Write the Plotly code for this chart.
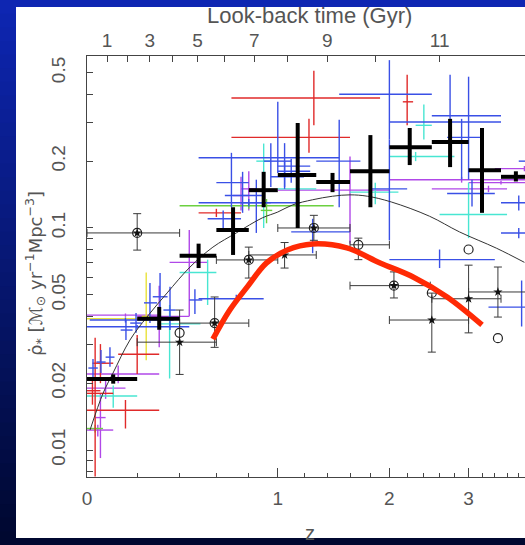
import numpy as np
import plotly.graph_objects as go

# ---------------- data ----------------
# thick black binned crosses: z, sfr, z_lo, z_hi, sfr_lo, sfr_hi
BIN = [
    (0.10, 0.0209, 0.0, 0.2, 0.0199, 0.0219),
    (0.30, 0.039, 0.2, 0.4, 0.0348, 0.0441),
    (0.50, 0.075, 0.4, 0.6, 0.066, 0.085),
    (0.70, 0.098, 0.6, 0.8, 0.0756, 0.124),
    (0.90, 0.148, 0.8, 1.0, 0.124, 0.179),
    (1.15, 0.173, 1.0, 1.3, 0.100, 0.297),
    (1.44, 0.161, 1.3, 1.6, 0.145, 0.177),
    (1.80, 0.180, 1.6, 2.0, 0.124, 0.262),
    (2.23, 0.231, 2.0, 2.5, 0.192, 0.282),
    (2.74, 0.244, 2.5, 3.0, 0.188, 0.310),
    (3.20, 0.182, 3.0, 3.5, 0.117, 0.282),
    (3.75, 0.170, 3.5, 4.0, 0.162, 0.180),
]

# thin black points with capped error bars: kind, z, sfr, z_lo, z_hi, sfr_lo, sfr_hi
PTS = [
    ("cstar", 0.20, 0.095, 0.0, 0.4, 0.0795, 0.116),
    ("circle", 0.40, 0.0337, None, None, None, None),
    ("star", 0.40, 0.0306, 0.2, 0.6, 0.0219, 0.0427),
    ("cstar", 0.59, 0.0373, 0.4, 0.8, 0.029, 0.0489),
    ("cstar", 0.80, 0.0718, 0.6, 1.0, 0.0595, 0.082),
    ("star", 1.05, 0.0756, 0.8, 1.3, 0.066, 0.086),
    ("cstar", 1.28, 0.100, 1.0, 1.6, 0.088, 0.114),
    ("circle", 1.68, 0.084, 1.6, 2.0, 0.072, 0.090),
    ("cstar", 2.05, 0.055, 1.6, 2.48, 0.0484, 0.0634),
    ("circle", 2.50, 0.051, None, None, None, None),
    ("star", 2.50, 0.0385, 2.0, 3.0, 0.0276, 0.0509),
    ("star", 3.00, 0.048, 2.5, 3.5, 0.0337, 0.068),
    ("circle", 3.00, 0.080, None, None, None, None),
    ("star", 3.45, 0.0515, 3.0, 4.0, 0.0397, 0.0667),
    ("circle", 3.45, 0.0319, None, None, None, None),
]

BLUE = [
    (0.022, 0.0234, 0.005, 0.04, 0.0213, 0.0257),
    (0.052, 0.0249, 0.035, 0.07, 0.0222, 0.0282),
    (0.087, 0.0262, 0.07, 0.105, 0.0237, 0.029),
    (0.152, 0.0347, 0.13, 0.18, 0.0313, 0.0385),
    (0.195, 0.0373, 0.17, 0.22, 0.0337, 0.0414),
    (0.257, 0.046, 0.23, 0.29, 0.0373, 0.0565),
    (0.304, 0.049, 0.27, 0.34, 0.0385, 0.0627),
    (0.352, 0.0427, 0.32, 0.38, 0.0347, 0.0543),
    (0.15, 0.0385, 0.01, 0.37, 0.0375, 0.0395),
    (0.20, 0.0359, 0.0, 0.45, 0.0352, 0.0366),
    (0.48, 0.0474, 0.45, 0.52, 0.041, 0.053),
    (0.72, 0.048, 0.5, 0.9, 0.046, 0.050),
    (0.95, 0.207, 0.5, 1.5, 0.153, 0.241),
    (1.00, 0.20, 0.9, 1.1, 0.177, 0.37),
    (0.69, 0.16, 0.6, 0.8, 0.124, 0.218),
    (0.80, 0.13, 0.5, 1.17, 0.125, 0.135),
    (0.76, 0.14, 0.65, 0.9, 0.117, 0.179),
    (0.85, 0.13, 0.75, 0.95, 0.095, 0.165),
    (0.64, 0.11, 0.55, 0.75, 0.10, 0.12),
    (1.05, 0.17, 0.95, 1.2, 0.15, 0.20),
    (1.05, 0.19, 1.0, 1.25, 0.153, 0.241),
    (1.50, 0.20, 1.3, 1.7, 0.124, 0.307),
    (2.00, 0.40, 1.5, 2.5, 0.25, 0.57),
    (2.74, 0.30, 2.0, 3.5, 0.188, 0.49),
    (3.00, 0.32, 2.5, 3.5, 0.165, 0.48),
    (2.90, 0.256, 2.7, 3.2, 0.165, 0.31),
    (2.00, 0.15, 1.8, 2.2, 0.088, 0.25),
    (3.05, 0.143, 2.7, 3.4, 0.125, 0.165),
    (3.80, 0.13, 3.5, 4.2, 0.12, 0.14),
    (3.80, 0.095, 3.5, 4.2, 0.09, 0.10),
    (2.60, 0.072, 2.0, 3.4, 0.066, 0.080),
    (3.85, 0.044, 3.3, 4.2, 0.036, 0.058),
    (1.27, 0.096, 1.1, 1.6, 0.077, 0.11),
    (4.00, 0.20, 3.8, 4.3, 0.19, 0.21),
    (1.10, 0.18, 1.0, 1.25, 0.16, 0.205),
]
RED = [
    (0.03, 0.018, 0.0, 0.1, 0.0076, 0.032),
    (0.20, 0.027, 0.12, 0.3, 0.022, 0.033),
    (0.15, 0.0151, 0.0, 0.3, 0.0125, 0.0168),
    (0.05, 0.0246, 0.02, 0.1, 0.020, 0.030),
    (0.02, 0.0185, 0.0, 0.05, 0.016, 0.021),
    (1.28, 0.385, 0.69, 1.9, 0.29, 0.51),
    (1.24, 0.256, 0.69, 1.6, 0.218, 0.31),
    (2.20, 0.37, 2.15, 2.27, 0.29, 0.49),
    (0.60, 0.117, 0.5, 0.75, 0.112, 0.122),
]
CYAN = [
    (0.10, 0.0175, 0.0, 0.2, 0.0155, 0.0195),
    (0.35, 0.037, 0.29, 0.51, 0.021, 0.045),
    (0.55, 0.063, 0.4, 0.6, 0.045, 0.072),
    (0.90, 0.20, 0.85, 0.95, 0.10, 0.24),
    (1.15, 0.15, 1.0, 1.3, 0.13, 0.25),
    (2.40, 0.29, 2.3, 2.5, 0.25, 0.36),
    (3.00, 0.115, 2.6, 3.6, 0.09, 0.16),
    (1.85, 0.145, 1.6, 2.1, 0.128, 0.16),
    (2.30, 0.21, 2.0, 2.8, 0.20, 0.22),
]
VIOLET = [
    (0.15, 0.0405, 0.0, 0.3, 0.0398, 0.0412),
    (0.12, 0.022, 0.0, 0.3, 0.020, 0.024),
    (0.07, 0.019, 0.0, 0.15, 0.017, 0.021),
    (0.04, 0.0123, 0.0, 0.1, 0.0115, 0.013),
    (0.05, 0.014, 0.03, 0.07, 0.0092, 0.018),
    (0.30, 0.040, 0.2, 0.45, 0.029, 0.055),
    (0.45, 0.070, 0.35, 0.55, 0.040, 0.098),
    (0.80, 0.15, 0.75, 0.85, 0.12, 0.18),
    (0.75, 0.14, 0.7, 0.8, 0.12, 0.17),
    (1.60, 0.148, 1.0, 2.0, 0.085, 0.21),
    (2.90, 0.165, 2.0, 4.3, 0.16, 0.17),
    (3.90, 0.185, 3.4, 4.3, 0.18, 0.19),
    (3.30, 0.15, 2.5, 3.6, 0.145, 0.155),
    (3.50, 0.16, 3.0, 4.3, 0.157, 0.163),
]
YELLOW = [
    (0.24, 0.040, 0.22, 0.26, 0.0254, 0.063),
    (0.15, 0.039, 0.0, 0.3, 0.0385, 0.0395),
]
GREEN = [
    (0.80, 0.126, 0.4, 1.45, 0.122, 0.130),
    (0.92, 0.120, 0.88, 0.96, 0.105, 0.135),
    (0.03, 0.0125, 0.0, 0.06, 0.012, 0.013),
]

FIT_Z = [0.011, 0.06, 0.099, 0.169, 0.243, 0.338, 0.454, 0.58, 0.72, 0.89, 1.0,
         1.11, 1.27, 1.44, 1.6, 1.77, 2.02, 2.47, 2.87, 3.43, 3.9]
FIT_SFR = [0.0123, 0.018, 0.0222, 0.0313, 0.0397, 0.051, 0.0667, 0.082, 0.095, 0.111, 0.118,
           0.127, 0.134, 0.139, 0.141, 0.139, 0.131, 0.113, 0.096, 0.081, 0.070]

RED_Z = [0.58, 0.68, 0.79, 0.92, 1.07, 1.27, 1.57, 1.90, 2.27, 2.70, 3.2]
RED_SFR = [0.0316, 0.0427, 0.0543, 0.0696, 0.0796, 0.0847, 0.0813, 0.0696, 0.0602, 0.0489, 0.0366]

Z_LABELS = [0, 1, 2, 3, 4]
LOOKBACK_GYR = list(range(0, 13))
Y_LABELS = [0.01, 0.02, 0.05, 0.1, 0.2, 0.5]

# ---------------- layout geometry ----------------
W, H = 525, 545
L, R, T, B = 87, 0, 56, 68
PW, PH = W - L - R, H - T - B
X_RANGE = [0.0, np.log10(4.91)]
Y_RANGE = [np.log10(0.00756), np.log10(0.595)]


def px(x):
    return (x - L) / PW


def py(y):
    return 1 - (y - T) / PH


def cross_trace(rows, color, thick, cap=0):
    a = np.array(rows, dtype=float)
    z, s, zlo, zhi, slo, shi = a.T
    return go.Scatter(
        x=1 + z, y=s, mode="markers",
        marker=dict(size=1, color="rgba(0,0,0,0)"),
        error_x=dict(type="data", symmetric=False, array=zhi - z, arrayminus=z - zlo,
                     color=color, thickness=thick, width=cap),
        error_y=dict(type="data", symmetric=False, array=shi - s, arrayminus=s - slo,
                     color=color, thickness=thick, width=cap),
        hoverinfo="skip", showlegend=False)


fig = go.Figure()

for rows, col in [(VIOLET, "#b048e8"), (CYAN, "#48e6d2"), (YELLOW, "#e8e23a"),
                  (GREEN, "#6cd040"), (RED, "#e02a2a"), (BLUE, "#3a50e6")]:
    fig.add_trace(cross_trace(rows, col, 1.4))

# thin fit curve
fig.add_trace(go.Scatter(x=1 + np.array(FIT_Z), y=FIT_SFR, mode="lines",
                         line=dict(color="#333333", width=1, shape="spline"),
                         hoverinfo="skip", showlegend=False))

# thin black points
err_rows = [p[1:] for p in PTS if p[3] is not None]
fig.add_trace(cross_trace(err_rows, "#3a3a3a", 1, cap=4))
for kind in ("cstar", "circle"):
    zz = [1 + p[1] for p in PTS if p[0] == kind]
    ss = [p[2] for p in PTS if p[0] == kind]
    fig.add_trace(go.Scatter(x=zz, y=ss, mode="markers",
                             marker=dict(symbol="circle-open", size=9, color="#222",
                                         line=dict(color="#222", width=1.2)),
                             hoverinfo="skip", showlegend=False))
zz = [1 + p[1] for p in PTS if p[0] in ("cstar", "star")]
ss = [p[2] for p in PTS if p[0] in ("cstar", "star")]
fig.add_trace(go.Scatter(x=zz, y=ss, mode="markers",
                         marker=dict(symbol="star", size=7, color="#111", line=dict(width=0)),
                         hoverinfo="skip", showlegend=False))

# thick black binned crosses
fig.add_trace(cross_trace(BIN, "#000000", 4))

# red curve
fig.add_trace(go.Scatter(x=1 + np.array(RED_Z), y=RED_SFR, mode="lines",
                         line=dict(color="#ff2a05", width=5.5, shape="spline"),
                         hoverinfo="skip", showlegend=False))

# ---- look-back time axis ticks (H0=70, Om=0.3, OL=0.7) ----
zg = np.linspace(0, 8, 16001)
integ = 1.0 / ((1 + zg) * np.sqrt(0.3 * (1 + zg) ** 3 + 0.7))
tl = 977.8 / 70.0 * np.concatenate([[0], np.cumsum(0.5 * (integ[1:] + integ[:-1]) * np.diff(zg))])
z_lb = np.interp(LOOKBACK_GYR, tl, zg)
lb_major = [1 + z for t, z in zip(LOOKBACK_GYR, z_lb) if t % 2 == 1]
lb_major_txt = [str(t) for t in LOOKBACK_GYR if t % 2 == 1]
lb_minor = [1 + z for t, z in zip(LOOKBACK_GYR, z_lb) if t % 2 == 0]
fig.add_trace(go.Scatter(x=1 + z_lb, y=[0.05] * len(z_lb), xaxis="x2", mode="markers",
                         marker=dict(size=1, color="rgba(0,0,0,0)"),
                         hoverinfo="skip", showlegend=False))

FONT = "Liberation Sans, Arial, sans-serif"
tickfont = dict(family=FONT, size=19, color="#555555")

minor_z = [1 + v / 10 for v in range(2, 44, 2) if v % 10 != 0]
y_minor = [v / 1000 for v in range(8, 10)] + [v / 100 for v in range(1, 10)] + [v / 10 for v in range(1, 6)]
y_minor = [v for v in y_minor if not any(abs(v - t) < 1e-9 for t in Y_LABELS)]

# background: blue gradient + white panel
shapes = []
NB = 40
c_top = np.array([14, 38, 178])
c_bot = np.array([0, 8, 48])
for i in range(NB):
    f = i / (NB - 1)
    c = (c_top * (1 - f) + c_bot * f).astype(int)
    shapes.append(dict(type="rect", xref="paper", yref="paper", layer="below",
                       x0=px(0), x1=px(W + 2), y0=py(H * (i + 1) / NB + 1), y1=py(H * i / NB),
                       line=dict(width=0), fillcolor="rgb(%d,%d,%d)" % tuple(c)))
shapes.append(dict(type="rect", xref="paper", yref="paper", layer="below",
                   x0=px(16), x1=px(W + 2), y0=py(538), y1=py(7),
                   line=dict(width=0), fillcolor="#ffffff"))

fig.update_layout(
    width=W, height=H,
    margin=dict(l=L, r=R, t=T, b=B),
    paper_bgcolor="#0a1e8c", plot_bgcolor="#ffffff",
    showlegend=False,
    shapes=shapes,
    xaxis=dict(type="log", range=X_RANGE, showgrid=False, zeroline=False,
               showline=True, linecolor="#444", linewidth=1, mirror=False,
               tickmode="array", tickvals=[1 + v for v in Z_LABELS],
               ticktext=[str(v) for v in Z_LABELS],
               ticks="inside", ticklen=9, tickcolor="#444", tickfont=tickfont,
               ticklabelstandoff=4,
               minor=dict(tickmode="array", tickvals=minor_z, ticks="inside",
                          ticklen=4, tickcolor="#444", showgrid=False)),
    xaxis2=dict(type="log", range=X_RANGE, overlaying="x", side="top", anchor="y",
                showgrid=False, zeroline=False, showline=True, linecolor="#444",
                tickmode="array", tickvals=lb_major, ticktext=lb_major_txt,
                ticks="inside", ticklen=6, tickcolor="#444", tickfont=tickfont,
                ticklabelstandoff=0,
                minor=dict(tickmode="array", tickvals=lb_minor, ticks="inside",
                           ticklen=6, tickcolor="#444", showgrid=False)),
    yaxis=dict(type="log", range=Y_RANGE, showgrid=False, zeroline=False,
               showline=True, linecolor="#444", mirror=False,
               tickmode="array", tickvals=Y_LABELS, ticktext=["%g" % v for v in Y_LABELS],
               ticks="inside", ticklen=6, tickcolor="#444", tickfont=tickfont,
               tickangle=-90, ticklabelstandoff=13,
               minor=dict(tickmode="array", tickvals=y_minor, ticks="inside",
                          ticklen=6, tickcolor="#444", showgrid=False)),
    annotations=[
        dict(text="Look-back time (Gyr)", xref="paper", yref="paper",
             x=px(309), y=py(16), showarrow=False, xanchor="center", yanchor="middle",
             font=dict(family=FONT, size=22, color="#555")),
        dict(text="ρ̇<sub>*</sub> [ℳ<sub>⊙</sub> yr<sup>−1</sup>Mpc<sup>−3</sup>]",
             xref="paper", yref="paper", x=px(35), y=py(274), showarrow=False,
             textangle=-90, xanchor="center", yanchor="middle",
             font=dict(family="DejaVu Sans, sans-serif", size=18, color="#555")),
        dict(text="z", xref="paper", yref="paper", x=px(310), y=py(533), showarrow=False,
             xanchor="center", yanchor="middle",
             font=dict(family=FONT, size=20, color="#555")),
    ],
)

fig.write_html("out.html")
